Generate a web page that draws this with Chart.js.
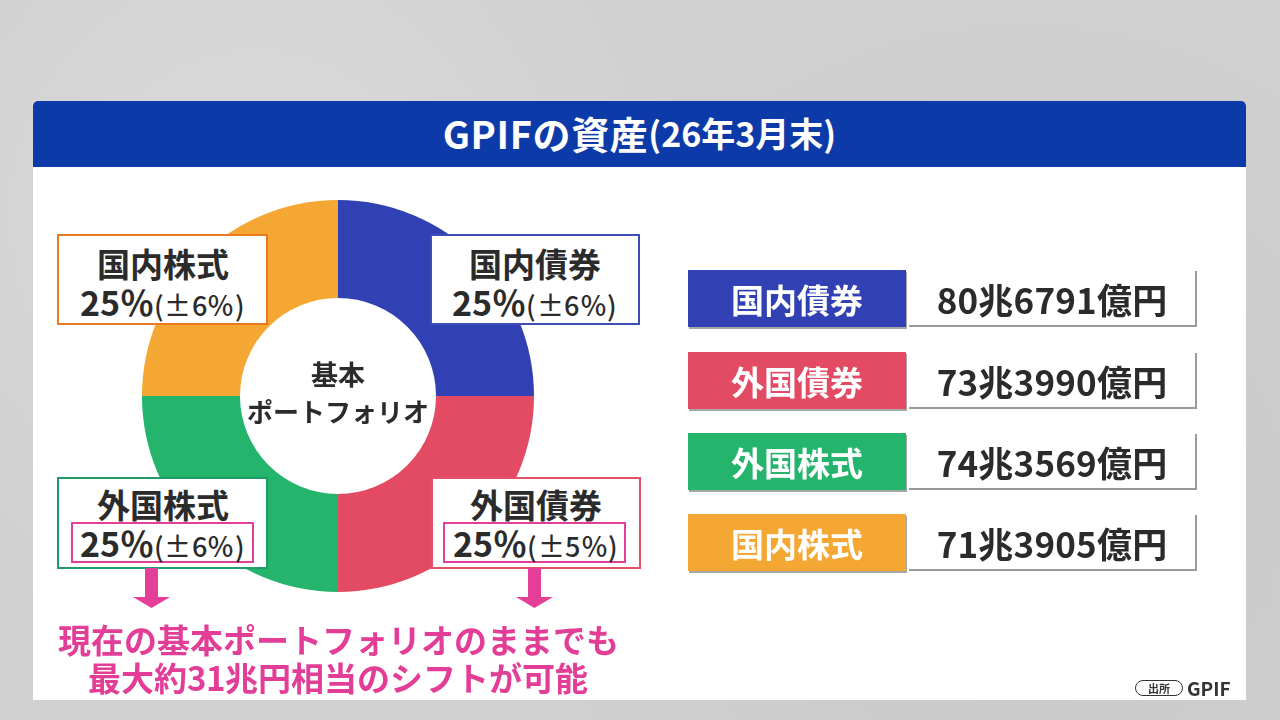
<!DOCTYPE html>
<html><head><meta charset="utf-8">
<script src="https://cdn.jsdelivr.net/npm/chart.js@4"></script>
<style>
@font-face{font-family:'JPT';font-weight:700;src:local('Noto Sans CJK JP Bold'),local('NotoSansCJKjp-Bold'),local('Noto Sans CJK JP');ascent-override:88%;descent-override:12%;line-gap-override:0%}
@font-face{font-family:'JPT';font-weight:500;src:local('Noto Sans CJK JP Medium'),local('NotoSansCJKjp-Medium'),local('Noto Sans CJK JP');ascent-override:88%;descent-override:12%;line-gap-override:0%}
*{box-sizing:border-box}
body{margin:0;width:1280px;height:720px;overflow:hidden;position:relative;font-family:'Noto Sans CJK JP','Noto Sans',sans-serif;font-weight:700;color:#2b2b2b;
background:#d0d0d0;
background-image:radial-gradient(circle at 20% 30%,rgba(255,255,255,.22),transparent 40%),radial-gradient(circle at 80% 70%,rgba(0,0,0,.04),transparent 45%);}
.abs{position:absolute}
#panel{left:33px;top:101px;width:1213px;height:599px;background:#fff;border-radius:5px 5px 0 0}
#banner{left:33px;top:101px;width:1213px;height:66px;background:#0c3aa8;border-radius:5px 5px 0 0;color:#fff;display:flex;align-items:center;justify-content:center;font-size:38px;letter-spacing:0.6px;padding-bottom:3px}
#banner .sm{font-size:34px;letter-spacing:0px}
#pieWrap{left:142px;top:200px;width:392px;height:392px}
.center{left:238px;top:355px;width:200px;text-align:center;font-size:26px;line-height:37px;color:#2b2b2b}
.center .k{font-size:27px}
.lbox{background:#fff;border:2px solid #000}
.lbox .txt{position:absolute;left:0;right:0;text-align:center;font-family:'JPT','Noto Sans CJK JP',sans-serif;font-size:34px;line-height:38px;white-space:nowrap}
.lbox .name{font-size:33px}
.lbox .big{font-size:34px}
.lbox .small{font-size:27px;line-height:20px;font-weight:500;letter-spacing:0.6px}
.pink{position:absolute;border:2.5px solid #e0409a;top:43px;height:41px}
.row .tag{position:absolute;left:688px;width:218px;height:57px;color:#fff;font-size:33px;display:flex;align-items:center;justify-content:center;box-shadow:1px 2px 0 rgba(0,0,0,.35)}
.row .val{position:absolute;left:909px;width:288px;height:56px;border-right:2px solid #9a9a9a;border-bottom:2px solid #9a9a9a;font-size:35px;display:flex;align-items:center;justify-content:center;color:#2b2b2b;letter-spacing:0.2px}
.msg{left:33px;top:622px;width:610px;text-align:center;color:#e33e97;font-family:'JPT','Noto Sans CJK JP',sans-serif;font-size:33px;line-height:38px}
#src{left:1135px;top:674px;font-size:19px;color:#333;display:flex;align-items:center}
#src .pill{border:1.5px solid #333;border-radius:8px;font-size:11px;line-height:12px;padding:1px 12px;margin-right:4px}
</style></head>
<body>
<div id="panel" class="abs"></div>
<div id="banner" class="abs"><span>GPIFの資産</span><span class="sm">(26年3月末)</span></div>
<div id="pieWrap" class="abs"><canvas id="pie" width="392" height="392"></canvas></div>
<div class="abs center"><span class="k">基本</span><br>ポートフォリオ</div>
<div id="labels"></div>
<svg class="abs" style="left:0;top:0" width="1280" height="720">
  <polygon points="145,568 158,568 158,597 170,597 151.5,608 133,597 145,597" fill="#e43f98"/>
  <polygon points="528,568 541,568 541,597 553,597 534.5,608 516,597 528,597" fill="#e43f98"/>
</svg>
<div class="abs msg">現在の基本ポートフォリオのままでも<br>最大約31兆円相当のシフトが可能</div>
<div id="table"></div>
<div id="src" class="abs"><span class="pill">出所</span><span>GPIF</span></div>
<script>
// ---- data ----
const categories = ['国内債券', '外国債券', '外国株式', '国内株式'];
const targetShares = [25, 25, 25, 25];              // 基本ポートフォリオ (%)
const allowedRanges = [6, 5, 6, 6];                 // 乖離許容幅 (±%)
const assetsOku = [806791, 733990, 743569, 713905]; // 資産額 (億円)

// ---- styles ----
const sliceColors = ['#3141b4', '#e34b65', '#24b46c', '#f5a733'];
const boxBorder = ['#3d4fb5', '#e45269', '#1f9c68', '#ea7a22'];
const boxPos = [ // left, top, width, height, textTop, pinkLeft
  [430, 234, 210, 91, 9, null],
  [431, 477, 210, 92, 7, 10],
  [57, 477, 211, 92, 7, 12],
  [57, 234, 211, 91, 9, null]
];

new Chart(document.getElementById('pie'), {
  type: 'doughnut',
  data: { labels: categories, datasets: [{ data: targetShares, backgroundColor: sliceColors, borderWidth: 0 }] },
  options: {
    responsive: false, animation: false, cutout: '50%', events: [],
    layout: { padding: 0 },
    plugins: { legend: { display: false }, tooltip: { enabled: false } }
  }
});

const labels = document.getElementById('labels');
categories.forEach((c, i) => {
  const [l, t, w, h, tt, pl] = boxPos[i];
  const d = document.createElement('div');
  d.className = 'abs lbox';
  d.style.cssText = `left:${l}px;top:${t}px;width:${w}px;height:${h}px;border-color:${boxBorder[i]}`;
  d.innerHTML = (pl !== null ? `<div class="pink" style="left:${pl}px;width:183px"></div>` : '') +
    `<div class="txt" style="top:${tt}px"><span class="name">${c}</span><br>` +
    `<span class="big">${targetShares[i]}％</span><span class="small">(±${allowedRanges[i]}％)</span></div>`;
  labels.appendChild(d);
});

const table = document.getElementById('table');
const rowTops = [270, 352, 433, 514];
categories.forEach((c, i) => {
  const v = assetsOku[i];
  const txt = `${Math.floor(v / 10000)}兆${v % 10000}億円`;
  const r = document.createElement('div');
  r.className = 'row';
  r.innerHTML = `<div class="tag" style="top:${rowTops[i]}px;background:${sliceColors[i]}">${c}</div>` +
    `<div class="val" style="top:${rowTops[i] + 1}px">${txt}</div>`;
  table.appendChild(r);
});
</script>
</body></html>
